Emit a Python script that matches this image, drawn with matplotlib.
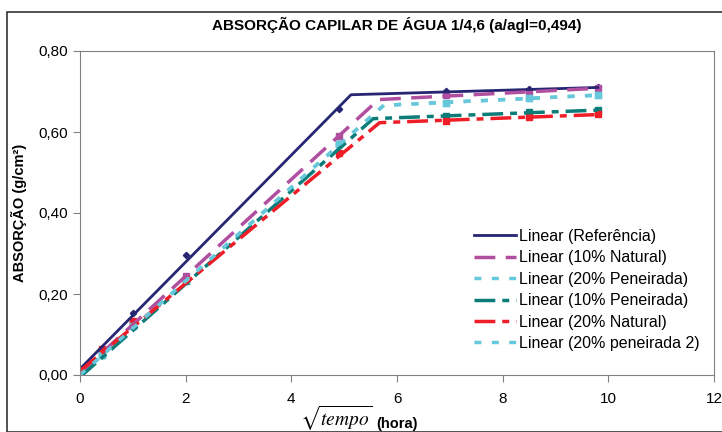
import matplotlib.pyplot as plt
import matplotlib.patches as patches

plt.rcParams['font.family'] = ['Liberation Sans', 'DejaVu Sans']

# sqrt(tempo) em horas
tempo = [0, 0.41, 1.0, 2.0, 4.9, 6.93, 8.49, 9.8]

ref = [0, 0.065, 0.152, 0.296, 0.656, 0.701, 0.705, 0.710]
nat10 = [0, 0.060, 0.130, 0.245, 0.590, 0.691, 0.700, 0.708]
pen20 = [0, 0.050, 0.120, 0.235, 0.570, 0.672, 0.683, 0.691]
pen10 = [0, 0.049, 0.125, 0.232, 0.570, 0.640, 0.650, 0.654]
nat20 = [0, 0.064, 0.134, 0.238, 0.549, 0.628, 0.638, 0.644]
pen20b = [0, 0.050, 0.120, 0.235, 0.570, 0.672, 0.683, 0.691]

# linhas de tendencia (dois trechos lineares)
ref_tx, ref_ty = [0, 5.13, 9.8], [0.015, 0.692, 0.710]
nat10_tx, nat10_ty = [0, 5.65, 9.8], [0.005, 0.680, 0.708]
pen20_tx, pen20_ty = [0, 5.75, 9.8], [0.0, 0.666, 0.691]
pen10_tx, pen10_ty = [0, 5.55, 9.8], [-0.005, 0.633, 0.654]
nat20_tx, nat20_ty = [0, 5.67, 9.8], [0.010, 0.623, 0.643]
pen20b_tx, pen20b_ty = [0, 5.75, 9.8], [0.0, 0.666, 0.691]

fig = plt.figure(figsize=(7.22, 4.32), dpi=100)
fig.patches.append(patches.Rectangle((7 / 722, 0), 1, (432 - 12) / 432,
                                     transform=fig.transFigure, fill=False,
                                     edgecolor='#333333', linewidth=1.2))
ax = fig.add_axes([80 / 722, 57 / 432, 634 / 722, 324 / 432])

navy = '#262673'
mag = '#B04FA0'
cyan = '#66C8DA'
teal = '#0B7C78'
red = '#EE1D27'

ax.plot(tempo, ref, 'D', color=navy, ms=3.2)
ax.plot(tempo, nat10, 's', color=mag, ms=4)
ax.plot(tempo, pen20, 's', color=cyan, ms=4)
ax.plot(tempo, pen10, 's', color=teal, ms=4)
ax.plot(tempo, nat20, 's', color=red, ms=4)
ax.plot(tempo, pen20b, 's', color=cyan, ms=4)

ax.plot(ref_tx, ref_ty, color=navy, lw=2, label='Linear (Referência)')
ax.plot(nat10_tx, nat10_ty, color=mag, lw=2.5, dashes=(6, 3),
        label='Linear (10% Natural)')
ax.plot(pen20_tx, pen20_ty, color=cyan, lw=2.5, dashes=(2, 3),
        label='Linear (20% Peneirada)')
ax.plot(pen10_tx, pen10_ty, color=teal, lw=2.5, dashes=(6, 2, 2, 2),
        label='Linear (10% Peneirada)')
ax.plot(nat20_tx, nat20_ty, color=red, lw=2.5, dashes=(6, 2, 2, 2),
        label='Linear (20% Natural)')
ax.plot(pen20b_tx, pen20b_ty, color=cyan, lw=2.5, dashes=(2, 3),
        label='Linear (20% peneirada 2)')

ax.set_xlim(0, 12)
ax.set_ylim(0, 0.8)
ax.set_xticks([0, 2, 4, 6, 8, 10, 12])
ax.set_yticks([0, 0.2, 0.4, 0.6, 0.8])
ax.set_yticklabels(['0,00', '0,20', '0,40', '0,60', '0,80'])
ax.tick_params(labelsize=11, color='#808080', length=5, direction='out')
ax.tick_params(axis='x', pad=7)
for s in ax.spines.values():
    s.set_color('#808080')

ax.set_title('ABSORÇÃO CAPILAR DE ÁGUA 1/4,6 (a/agl=0,494)',
             fontsize=11, fontweight='bold', pad=15)
ax.set_ylabel('ABSORÇÃO (g/cm²)', fontsize=10.5, fontweight='bold', labelpad=8)

fig.text(300 / 722, 1 - 418 / 432, r'$\sqrt{\mathit{tempo}}$', fontsize=14,
         math_fontfamily='stix', va='center')
fig.text(376 / 722, 1 - 424 / 432, '(hora)', fontsize=10.5,
         fontweight='bold', va='center')

ax.legend(loc='lower right', bbox_to_anchor=(1.0, 0.03), frameon=False,
          fontsize=11.5, handlelength=2.6, handletextpad=0.2, labelspacing=0.4)

fig.savefig('out.png', dpi=100)
